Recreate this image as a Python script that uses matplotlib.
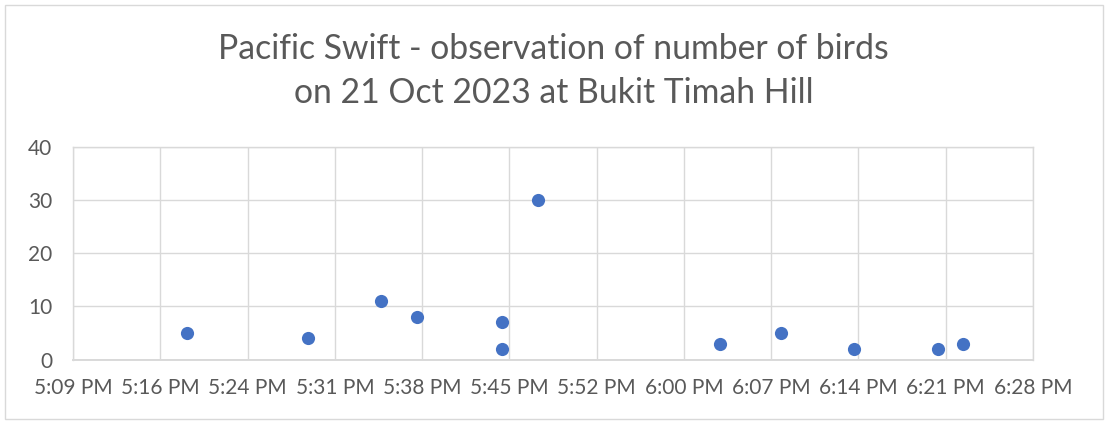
import matplotlib
matplotlib.use("Agg")
import matplotlib.pyplot as plt
from matplotlib.patches import Rectangle

# ---- data ----
obs_times = ["17:19", "17:29", "17:35", "17:38", "17:45", "17:45",
             "17:48", "18:03", "18:08", "18:14", "18:21", "18:23"]
bird_counts = [5, 4, 11, 8, 7, 2, 30, 3, 5, 2, 2, 3]
x_tick_labels = ["5:09 PM", "5:16 PM", "5:24 PM", "5:31 PM", "5:38 PM", "5:45 PM",
                 "5:52 PM", "6:00 PM", "6:07 PM", "6:14 PM", "6:21 PM", "6:28 PM"]
x_tick_values = [0.715, 0.720, 0.725, 0.730, 0.735, 0.740,
                 0.745, 0.750, 0.755, 0.760, 0.765, 0.770]   # fraction of day
y_ticks = [0, 10, 20, 30, 40]
title_lines = ["Pacific Swift - observation of number of birds",
               "on 21 Oct 2023 at Bukit Timah Hill"]


def to_day_fraction(t):
    h, m = t.split(":")
    return (int(h) * 60 + int(m)) / 1440.0


xs = [to_day_fraction(t) for t in obs_times]

plt.rcParams["font.family"] = ["Lato", "DejaVu Sans"]
TEXT = "#595959"
GRID = "#d9d9d9"
BLUE = "#4472C4"

W, H = 1105, 421
fig = plt.figure(figsize=(W / 100, H / 100), dpi=100)
fig.patch.set_facecolor("white")

# outer chart border
fig.add_artist(Rectangle((5 / W, 2 / H), 1098 / W, 414 / H, transform=fig.transFigure,
                         fill=False, edgecolor=GRID, linewidth=1.0))

left, right, top, bottom = 73, 1033, 147, 359.5
ax = fig.add_axes([left / W, 1 - bottom / H, (right - left) / W, (bottom - top) / H])

ax.scatter(xs, bird_counts, s=90, color=BLUE, zorder=3, linewidths=0)

ax.set_xlim(x_tick_values[0], x_tick_values[-1])
ax.set_ylim(0, 40)
ax.set_xticks(x_tick_values)
ax.set_xticklabels(x_tick_labels)
ax.set_yticks(y_ticks)
ax.tick_params(axis="both", length=0, labelsize=15, colors=TEXT)
ax.tick_params(axis="x", pad=13)
ax.tick_params(axis="y", pad=15)
ax.grid(True, color=GRID, linewidth=1.0, zorder=0)
ax.set_axisbelow(True)
for sp in ax.spines.values():
    sp.set_color(GRID)
    sp.set_linewidth(1.0)
ax.spines["bottom"].set_linewidth(1.4)

fig.text(0.501, 1 - 59 / H, title_lines[0], ha="center", va="baseline",
         fontsize=24.3, color=TEXT)
fig.text(0.501, 1 - 103 / H, title_lines[1], ha="center", va="baseline",
         fontsize=24.3, color=TEXT)

fig.savefig("out.png", dpi=100, facecolor="white")
